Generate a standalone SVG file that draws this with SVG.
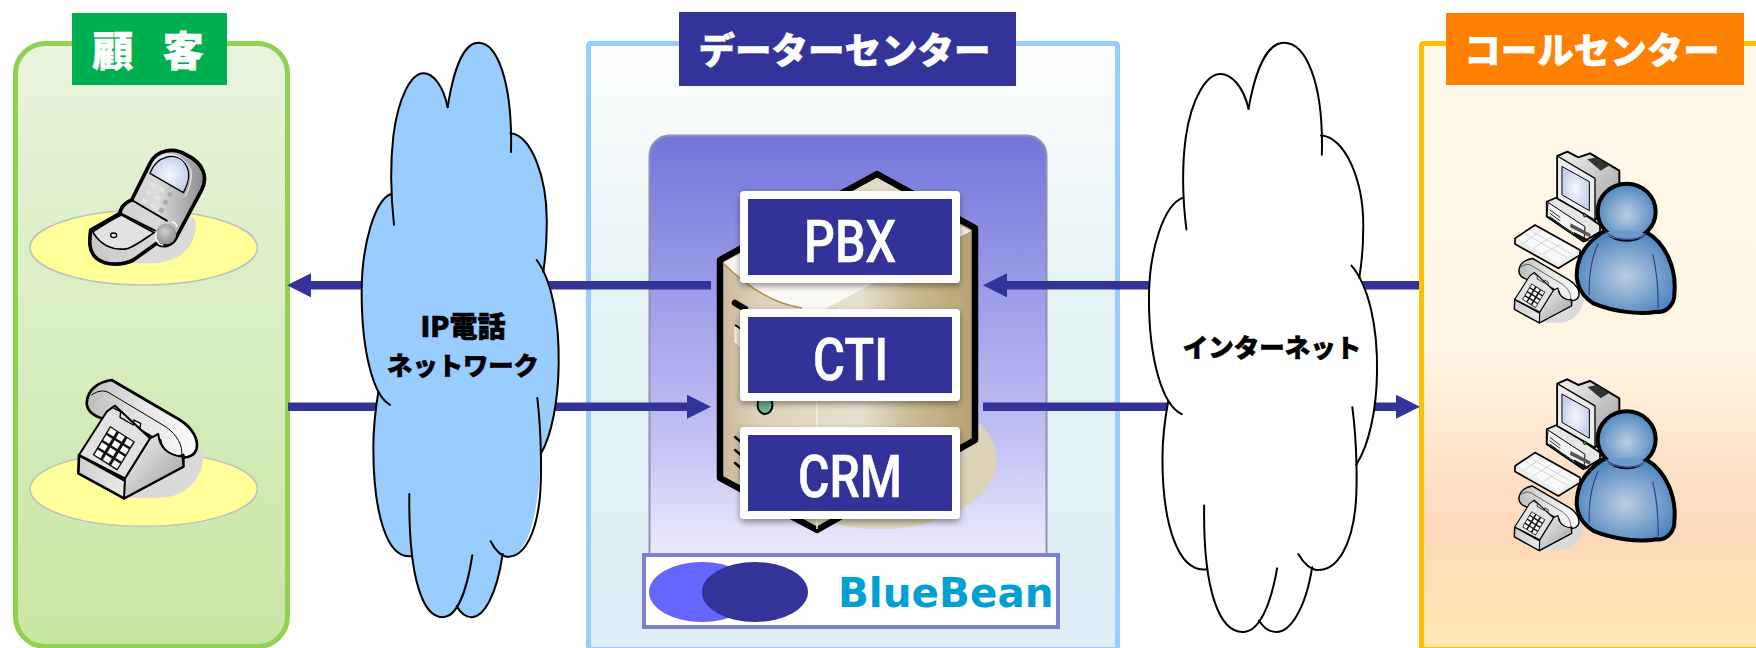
<svg xmlns="http://www.w3.org/2000/svg" width="1756" height="648" viewBox="0 0 1756 648">
<style>
.hd{font-family:"Noto Sans CJK JP","Noto Sans",sans-serif;font-weight:900;fill:#fff;stroke:#fff;stroke-width:.5px;text-anchor:middle}
.cl{font-family:"Noto Sans CJK JP","Noto Sans",sans-serif;font-weight:900;fill:#000;stroke:#000;stroke-width:.6px;text-anchor:middle}
.bx{fill:#333399;stroke:#fff;stroke-width:8;stroke-linejoin:round;filter:url(#sh)}
.bt{font-family:"Roboto","Liberation Sans",sans-serif;font-weight:500;fill:#fff;stroke:#fff;stroke-width:.6px;font-size:60px}
.arrow{fill:none;stroke:#333399;stroke-width:8.5;marker-end:url(#ah)}
.cs{fill:none;stroke:#000;stroke-width:2;vector-effect:non-scaling-stroke;stroke-linecap:round}
.ln{stroke:#000;stroke-linejoin:round;stroke-linecap:round}
</style>
<defs>
<linearGradient id="gL" x1="0" y1="0" x2="0" y2="1"><stop offset="0" stop-color="#E9F4DD"/><stop offset="1" stop-color="#C7E6A3"/></linearGradient>
<linearGradient id="gC" x1="0" y1="0" x2="0" y2="1"><stop offset="0" stop-color="#FCFDFE"/><stop offset=".5" stop-color="#E2F1F1"/><stop offset="1" stop-color="#DEEFF8"/></linearGradient>
<linearGradient id="gR" x1="0" y1="0" x2="0" y2="1"><stop offset="0" stop-color="#FFFAEE"/><stop offset=".5" stop-color="#FFF5E3"/><stop offset=".8" stop-color="#FDD9BB"/><stop offset="1" stop-color="#FFE8B3"/></linearGradient>
<linearGradient id="gP" x1="0" y1="0" x2="0" y2="1"><stop offset="0" stop-color="#7474DA"/><stop offset=".35" stop-color="#9C9CE8"/><stop offset=".7" stop-color="#C3C2F3"/><stop offset="1" stop-color="#F4F3FF"/></linearGradient>
<linearGradient id="gS" x1="720" x2="975" y1="0" y2="0" gradientUnits="userSpaceOnUse"><stop offset="0" stop-color="#C8B998"/><stop offset=".15" stop-color="#DCD2BA"/><stop offset=".38" stop-color="#E2DAC5"/><stop offset=".55" stop-color="#E7E0CF"/><stop offset=".75" stop-color="#CBBB93"/><stop offset="1" stop-color="#B5A273"/></linearGradient>
<linearGradient id="gT" x1="0" y1="0" x2="0" y2="1"><stop offset="0" stop-color="#DFD7C3"/><stop offset=".6" stop-color="#F8F5EE"/><stop offset="1" stop-color="#FBFAF6"/></linearGradient>
<linearGradient id="gM" x1="0" y1="0" x2="1" y2="1"><stop offset="0" stop-color="#F4F4F4"/><stop offset="1" stop-color="#9C9C9C"/></linearGradient>
<linearGradient id="gM2" x1="0" y1="0" x2="1" y2="0"><stop offset="0" stop-color="#CFCFCF"/><stop offset=".5" stop-color="#EDEDED"/><stop offset="1" stop-color="#B0B0B0"/></linearGradient>
<linearGradient id="gM3" x1="0" y1="0" x2="1" y2="0"><stop offset="0" stop-color="#BDBDBD"/><stop offset=".5" stop-color="#E6E6E6"/><stop offset="1" stop-color="#FBFBFB"/></linearGradient>
<linearGradient id="gF" x1="0" y1="0" x2="1" y2="0"><stop offset="0" stop-color="#C8C8C8"/><stop offset=".6" stop-color="#DADADA"/><stop offset="1" stop-color="#8C8C8C"/></linearGradient>
<radialGradient id="gScr"><stop offset="0" stop-color="#F6F8FD"/><stop offset="1" stop-color="#C6D2EC"/></radialGradient>
<radialGradient id="gPer" cx=".5" cy=".55" r=".55"><stop offset="0" stop-color="#BCCDE3"/><stop offset="1" stop-color="#4C86BE"/></radialGradient>
<radialGradient id="gHng" cx=".45" cy=".4" r=".6"><stop offset="0" stop-color="#CFCFCF"/><stop offset="1" stop-color="#8E8E8E"/></radialGradient>
<filter id="sh" x="-10%" y="-10%" width="120%" height="125%"><feDropShadow dx="0" dy="3" stdDeviation="3" flood-color="#000" flood-opacity=".4"/></filter>
<filter id="bl" x="-5%" y="-200%" width="110%" height="500%"><feGaussianBlur stdDeviation="1.5"/></filter>
<marker id="ah" viewBox="0 0 24 24" refX="0" refY="12" markerWidth="24" markerHeight="24" markerUnits="userSpaceOnUse" orient="auto"><path d="M0,0L24,12L0,24Z" fill="#333399"/></marker>
<g id="cloud">
<path stroke="none" d="M353,218C375,100 410,57 445,57C500,57 545,150 541,283C600,285 655,390 650,520C650,570 645,600 640,630C665,650 688,750 686,860C685,950 665,1040 632,1085C628,1240 590,1342 533,1342C525,1342 522,1340 518,1335C500,1440 460,1493 425,1493C405,1493 390,1480 380,1465C365,1485 350,1493 338,1493C290,1493 255,1420 245,1340C170,1350 130,1230 130,1070C130,1020 135,980 145,930C115,890 95,790 95,680C95,560 135,450 183,435C183,340 190,290 190,290C205,190 245,133 280,133C310,133 340,165 353,218Z"/>
<path class="cs" d="M353,218C375,100 410,57 445,57C500,57 548,150 543,330"/>
<path class="cs" d="M541,283C600,285 655,390 650,520C650,570 645,600 640,630"/>
<path class="cs" d="M620,600C665,650 688,750 686,860C685,950 665,1040 632,1085"/>
<path class="cs" d="M622,945C635,1040 635,1140 630,1190C620,1280 585,1342 533,1342C515,1342 495,1325 482,1303"/>
<path class="cs" d="M518,1335C500,1440 460,1493 425,1493C405,1493 390,1480 380,1465"/>
<path class="cs" d="M427,1338C410,1430 380,1493 338,1493C280,1493 235,1400 238,1185"/>
<path class="cs" d="M245,1340C170,1350 130,1230 130,1070C130,1020 135,980 145,930"/>
<path class="cs" d="M180,962C130,940 95,830 95,680C95,560 135,450 183,435"/>
<path class="cs" d="M192,512C180,420 183,340 190,290C205,190 245,133 280,133C310,133 340,165 353,218"/>
</g>
<g id="deskphone">
<path d="M470,290L600,322C630,360 590,473 480,473L380,473Z" fill="#DADADA"/>
<path class="ln" d="M335,120C300,125 262,145 260,190C262,215 285,230 305,235L480,300C485,330 510,350 545,352C565,355 585,345 590,325C595,300 580,265 540,240Z" fill="url(#gM3)" stroke-width="8"/>
<path class="ln" d="M237,345L372,420L550,345V380L372,475L235,400Z" fill="url(#gM2)" stroke-width="8"/>
<path class="ln" d="M375,415L450,295L475,282C478,320 500,345 548,350L550,380L372,475Z" fill="url(#gM)" stroke-width="6"/>
<path class="ln" d="M320,215L345,197L450,295L375,415L237,345Z" fill="#E2E2E2" stroke-width="6"/>
<path class="ln" d="M342,205L362,215L360,232L400,255L402,240L422,250L420,268L450,285" fill="none" stroke-width="4"/>
<path class="ln" d="M275,165C295,150 315,150 330,160L500,262C530,285 550,315 545,350" fill="none" stroke-width="3"/>
<path d="M330,258L405,305L352,392L278,345Z" fill="#111"/>
<g fill="#fff" transform="matrix(25,15.7,-13,21.75,330,258)">
<rect x=".15" y=".15" width=".7" height=".7"/><rect x="1.15" y=".15" width=".7" height=".7"/><rect x="2.15" y=".15" width=".7" height=".7"/>
<rect x=".15" y="1.15" width=".7" height=".7"/><rect x="1.15" y="1.15" width=".7" height=".7"/><rect x="2.15" y="1.15" width=".7" height=".7"/>
<rect x=".15" y="2.15" width=".7" height=".7"/><rect x="1.15" y="2.15" width=".7" height=".7"/><rect x="2.15" y="2.15" width=".7" height=".7"/>
<rect x=".15" y="3.15" width=".7" height=".7"/><rect x="1.15" y="3.15" width=".7" height=".7"/><rect x="2.15" y="3.15" width=".7" height=".7"/>
</g>
</g>
<g id="agent">
<path d="M200,500C280,480 310,500 312,510C300,560 250,578 200,578Z" fill="#DADADA"/>
<use href="#deskphone" transform="translate(-25,320) scale(.545)"/>
<path class="ln" d="M200,215L235,200L360,285V305L310,335L200,260Z" fill="#E6E6E6" stroke-width="5"/>
<path class="ln" d="M205,218L315,290L312,330L202,258Z" fill="#F4F4F4" stroke-width="3"/>
<path class="ln" d="M210,240L240,262M210,250L240,272M210,260L240,282" fill="none" stroke-width="2.5"/>
<path d="M272,280L332,312L330,322L270,292Z" fill="#555"/>
<path d="M282,306L328,330L316,336L282,316Z" fill="#111"/>
<path class="ln" d="M232,78L262,65L295,82L330,70L418,122V195L345,270L232,205Z" fill="url(#gM)" stroke-width="6"/>
<path class="ln" d="M232,78L345,145V270L232,205Z" fill="#ECECEC" stroke-width="4"/>
<path class="ln" d="M247,110L328,155V242L247,195Z" fill="url(#gScr)" stroke-width="3"/>
<path d="M322,88L350,82L388,106L362,122Z" fill="#333"/>
<circle cx="315" cy="256" r="5" fill="#3A8F5A" stroke="#000" stroke-width="2"/>
<path class="ln" d="M105,325L165,285L300,360V375L235,415L105,342Z" fill="#EDEDED" stroke-width="5"/>
<path d="M115,325L165,292L292,362L235,400Z" fill="#FAFAFA"/>
<path d="M135,311L262,383M150,301L277,373M130,340L185,300M160,355L215,320M190,372L245,340" fill="none" stroke="#CFCFCF" stroke-width="2.5"/>
<path class="ln" d="M370,305C300,350 290,400 290,440C295,490 325,510 340,520C400,545 480,555 530,545C560,550 585,520 583,490C590,420 560,340 497,305Z" fill="url(#gPer)" stroke-width="12"/>
<ellipse cx="440" cy="245" rx="87" ry="84" fill="url(#gPer)" stroke="#000" stroke-width="12"/>
<path d="M375,312C410,335 470,335 497,316C500,300 380,295 375,312Z" fill="#6A9ACB"/>
<path d="M375,305C410,335 470,335 497,310M355,340C335,380 325,440 328,495M518,372C530,420 535,480 535,535" fill="none" stroke="#3A3A8C" stroke-width="3.5"/>
</g>
</defs>

<rect width="1756" height="648" fill="#fff"/>

<g id="panel-customer">
<rect x="15.5" y="43.5" width="272" height="603" rx="30" fill="url(#gL)" stroke="#92D050" stroke-width="5"/>
<rect x="72" y="13" width="155" height="72" fill="#00B050"/>
<text class="hd" x="148" y="66" font-size="41" word-spacing="20">顧 客</text>
</g>
<g id="panel-datacenter">
<rect x="588.5" y="43.5" width="529" height="606" rx="2" fill="url(#gC)" stroke="#99CCFF" stroke-width="5"/>
<rect x="679" y="12" width="337" height="74" fill="#333399"/>
<text class="hd" x="844.5" y="64" font-size="36.5">データーセンター</text>
</g>
<g id="panel-callcenter">
<rect x="1421.5" y="43.5" width="345" height="606" rx="2" fill="url(#gR)" stroke="#FFC000" stroke-width="5"/>
<rect x="1446" y="13" width="298" height="72" fill="#FF8000"/>
<text class="hd" x="1592" y="64" font-size="36.5">コールセンター</text>
</g>

<g id="mobile-phone" transform="scale(.33333)">
<ellipse cx="431" cy="743" rx="341" ry="112" fill="#FFFF99" stroke="#BFBFBF" stroke-width="4.5"/>
<path d="M560,660C575,640 590,650 587,690C575,760 520,792 440,790L380,790Z" fill="#DADADA"/>
<path class="ln" d="M272,690L360,640C362,620 380,605 395,600L450,490C470,450 520,440 560,465C610,490 625,530 605,570L530,710C520,735 490,745 470,730L400,780C370,795 320,800 290,775C265,755 268,720 272,690Z" fill="url(#gF)" stroke-width="11"/>
<path d="M450,520C470,465 530,455 555,490C575,520 565,550 550,578Z" fill="url(#gScr)" stroke="#000" stroke-width="4"/>
<path d="M460,490C490,450 545,455 572,510C578,530 570,560 555,590" fill="none" stroke="#fff" stroke-width="3"/>
<path class="ln" d="M395,600L500,662M362,640L465,692" fill="none" stroke-width="6"/>
<path d="M278,695C320,670 340,655 365,645L462,698C430,720 410,735 385,745C340,755 300,735 278,695Z" fill="#E2E2E2" stroke="#000" stroke-width="5"/>
<ellipse cx="341" cy="706" rx="9" ry="7" fill="#E5E5E5" stroke="#000" stroke-width="4"/>
<circle cx="498" cy="702" r="31" fill="url(#gHng)"/>
<path d="M470,695C462,720 475,735 490,735M515,665C525,668 530,675 530,680" fill="none" stroke="#fff" stroke-width="4"/>
<g transform="matrix(25,14,-13,24,460,555)" fill="#E4E4E4"><rect x="-.25" y="-.25" width=".5" height=".5"/><rect x=".75" y="-.25" width=".5" height=".5"/><rect x="1.75" y="-.25" width=".5" height=".5" fill="#ACACAC"/><rect x="-.25" y=".75" width=".5" height=".5"/><rect x=".75" y=".75" width=".5" height=".5"/><rect x="1.75" y=".75" width=".5" height=".5" fill="#ACACAC"/><rect x="-.25" y="1.75" width=".5" height=".5"/><rect x=".75" y="1.75" width=".5" height=".5"/><rect x="1.75" y="1.75" width=".5" height=".5" fill="#ACACAC"/></g>
</g>
<g id="desk-phone" transform="translate(0,340) scale(.33333)">
<ellipse cx="431" cy="447" rx="341" ry="112" fill="#FFFF99" stroke="#BFBFBF" stroke-width="4.5"/>
<use href="#deskphone"/>
</g>
<g id="agent-1" transform="translate(1480,130) scale(.33333)"><use href="#agent"/></g>
<g id="agent-2" transform="translate(1480,357.6) scale(.33333)"><use href="#agent"/></g>

<g id="platform">
<rect x="649.5" y="135.5" width="397" height="440" rx="20" fill="url(#gP)" stroke="#9090B8" stroke-width="2"/>
<path d="M668,140H1028" stroke="#B4B4F4" stroke-width="4" filter="url(#bl)"/>
</g>
<g id="server">
<ellipse cx="880" cy="460" rx="117" ry="69" fill="#DCD3B8"/>
<path d="M877,174L975,228V440L817,530L720,478V260Z" fill="url(#gS)" stroke="#000" stroke-width="6.5" stroke-linejoin="round"/>
<path d="M877,178L971,231L825,309H802C770,303 745,285 723,263Z" fill="url(#gT)"/>
<path d="M723,263C745,285 770,303 802,308" fill="none" stroke="#B08A50" stroke-width="1.5"/>
<path d="M817,309V529" stroke="#F4F0E6" stroke-width="1.5"/>
<path d="M735,303L745,309" stroke="#000" stroke-width="6.5" stroke-linecap="round"/>
<path d="M735,326L741,330V346L735,342Z" fill="#E8E4D8" stroke="#fff" stroke-width="1"/>
<path d="M735,325L741,329" stroke="#000" stroke-width="2"/>
<ellipse cx="765" cy="405" rx="7.5" ry="9" fill="#6DB58F" stroke="#000" stroke-width="2"/>
<path d="M735,437L741,442M735,450L741,455M735,463L741,468" stroke="#000" stroke-width="2.5" stroke-linecap="round"/>
</g>

<g id="connectors">
<path class="arrow" d="M711,285.3H311"/>
<path class="arrow" d="M288,406.7H687"/>
<path class="arrow" d="M1419,285.3H1007"/>
<path class="arrow" d="M983,406.7H1396"/>
</g>

<g id="cloud-ip">
<use href="#cloud" fill="#99CCFF" transform="translate(330,20) scale(.33333,.4)"/>
<text class="cl" x="463" y="337" font-size="28">IP電話</text>
<text class="cl" x="463" y="375" font-size="25.3">ネットワーク</text>
</g>
<g id="cloud-internet">
<use href="#cloud" fill="#fff" transform="translate(1112.3,19.4) scale(.3859,.4103)"/>
<text class="cl" x="1272" y="357" font-size="25.5">インターネット</text>
</g>

<g id="node-pbx"><rect class="bx" x="744" y="195" width="212" height="84"/><text class="bt" x="804" y="262" textLength="92" lengthAdjust="spacingAndGlyphs">PBX</text></g>
<g id="node-cti"><rect class="bx" x="744" y="313" width="212" height="84"/><text class="bt" x="813" y="380" textLength="75" lengthAdjust="spacingAndGlyphs">CTI</text></g>
<g id="node-crm"><rect class="bx" x="744" y="431" width="212" height="84"/><text class="bt" x="798" y="497" textLength="104" lengthAdjust="spacingAndGlyphs">CRM</text></g>

<g id="logo-bluebean">
<rect x="644" y="555" width="414" height="72" fill="#fff" stroke="#7F7FD5" stroke-width="4"/>
<ellipse cx="702" cy="592" rx="53" ry="30" fill="#6666FF"/>
<ellipse cx="755" cy="592" rx="53" ry="30" fill="#333399"/>
<text x="838" y="607" font-family="DejaVu Sans" font-weight="700" font-size="40.5" fill="#009FD4">BlueBean</text>
</g>
</svg>
